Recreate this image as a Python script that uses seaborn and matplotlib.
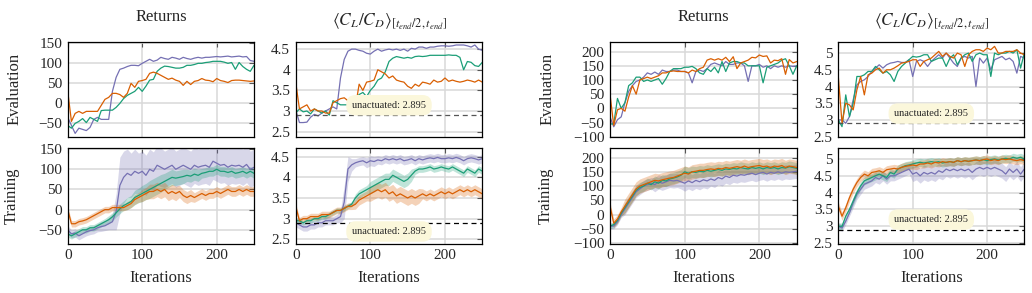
import numpy as np
import pandas as pd
import matplotlib
matplotlib.use('Agg')
import matplotlib.pyplot as plt
from matplotlib.ticker import FuncFormatter
import seaborn as sns

# iterations (evaluation every 5 iterations)
iters = np.arange(0, 251, 5)
runs = ['purple', 'green', 'orange']
colors = {'purple': '#7570b3', 'green': '#1b9e77', 'orange': '#d95f02'}
unactuated = 2.895

# ---------------- left group: evaluation ----------------
ev_ret_a = {
    'purple': [-35, -55, -75, -62, -65, -68, -60, -40, -35, -40, -40, -40, 30, 65, 85, 88, 92, 95, 95, 94,
               100, 105, 110, 105, 108, 115, 112, 110, 115, 113, 110, 115, 112, 110, 113, 115, 113, 115, 115, 116,
               117, 116, 117, 118, 116, 117, 118, 116, 117, 107, 105],
    'green': [-55, -62, -50, -45, -38, -48, -35, -40, -45, -18, -17, -17, -17, -10, 0, 12, 20, 25, 30, 40,
              30, 43, 58, 60, 80, 88, 93, 92, 90, 88, 88, 90, 95, 95, 97, 100, 100, 102, 103, 105,
              105, 105, 103, 100, 102, 85, 102, 92, 85, 80, 95],
    'orange': [31, -45, -25, -20, -25, -20, -20, -20, -20, -5, 10, 15, 25, 25, 22, 15, 25, 50, 40, 55,
               57, 60, 75, 78, 75, 70, 65, 60, 63, 58, 55, 45, 55, 47, 55, 57, 62, 58, 57, 54,
               62, 57, 55, 52, 57, 58, 58, 57, 56, 55, 56],
}
ev_cl_a = {
    'purple': [3.03, 2.72, 2.72, 2.73, 2.85, 2.92, 2.88, 2.95, 3.0, 3.05, 3.1, 3.05, 3.8, 4.25, 4.45, 4.5, 4.5, 4.47, 4.45, 4.4,
               4.38, 4.45, 4.5, 4.45, 4.48, 4.5, 4.48, 4.5, 4.47, 4.5, 4.45, 4.52, 4.5, 4.55, 4.55, 4.52, 4.55, 4.55, 4.57, 4.58,
               4.58, 4.57, 4.58, 4.6, 4.6, 4.6, 4.58, 4.55, 4.6, 4.5, 4.47],
    'green': [2.95, 3.05, 2.98, 3.0, 2.93, 3.05, 3.0, 2.95, 3.0, 2.9, 3.25, 3.2, 3.15, 3.15, 3.15, 3.2, 3.3, 3.4, 3.45, 3.35,
              3.5, 3.6, 3.75, 3.8, 3.95, 4.2, 4.28, 4.32, 4.3, 4.28, 4.3, 4.28, 4.32, 4.33, 4.32, 4.33, 4.35, 4.35, 4.35, 4.35,
              4.35, 4.36, 4.35, 4.35, 4.3, 4.0, 4.2, 4.18, 4.1, 4.08, 4.18],
    'orange': [3.7, 3.05, 3.1, 3.15, 3.0, 3.05, 3.0, 3.0, 2.95, 2.95, 3.2, 3.25, 3.3, 3.32, 3.25, 3.2, 3.1, 3.65, 3.5, 3.7,
               3.72, 3.75, 4.0, 3.95, 3.9, 3.8, 3.85, 3.75, 3.72, 3.7, 3.6, 3.55, 3.65, 3.6, 3.7, 3.68, 3.65, 3.75, 3.7, 3.72,
               3.8, 3.72, 3.75, 3.72, 3.7, 3.72, 3.75, 3.73, 3.7, 3.75, 3.7],
}

# ---------------- left group: training (mean and spread) ----------------
tr_ret_a = {
    'purple': [-50, -60, -58, -65, -60, -55, -52, -50, -45, -42, -40, -35, -30, -5, 60, 80, 90, 85, 95, 90,
               95, 85, 100, 95, 110, 105, 100, 105, 110, 100, 105, 110, 105, 100, 110, 105, 108, 110, 105, 120,
               115, 110, 112, 105, 110, 108, 110, 105, 112, 100, 105],
    'green': [-60, -65, -60, -55, -50, -50, -45, -45, -40, -35, -30, -25, -18, -8, 2, 10, 15, 20, 30, 35,
              40, 45, 50, 55, 60, 65, 70, 75, 80, 78, 80, 82, 85, 83, 88, 85, 90, 92, 95, 95,
              100, 95, 95, 92, 95, 90, 92, 95, 90, 95, 90],
    'orange': [0, -35, -35, -30, -28, -25, -20, -15, -10, -5, 0, 0, 5, 5, 5, 5, 10, 15, 25, 30,
               35, 40, 45, 45, 50, 45, 50, 40, 45, 40, 45, 35, 30, 35, 30, 35, 40, 35, 40, 40,
               45, 40, 45, 50, 45, 45, 50, 45, 50, 45, 45],
}
tr_ret_a_sd = {
    'purple': [10, 10, 10, 10, 10, 10, 10, 10, 10, 12, 12, 15, 20, 45, 70, 65, 60, 55, 55, 50,
               50, 50, 50, 48, 48, 48, 45, 45, 45, 45, 45, 45, 45, 45, 45, 45, 45, 45, 45, 45,
               45, 45, 45, 45, 45, 45, 45, 45, 45, 45, 45],
    'green': [8, 8, 8, 8, 8, 8, 8, 8, 8, 8, 8, 10, 10, 10, 12, 12, 15, 15, 18, 18,
              20, 20, 22, 22, 22, 22, 20, 20, 20, 18, 18, 18, 15, 15, 15, 15, 12, 12, 12, 12,
              12, 12, 12, 12, 12, 12, 12, 12, 12, 12, 12],
    'orange': [8, 8, 8, 8, 8, 8, 8, 8, 8, 8, 8, 8, 8, 8, 8, 8, 10, 10, 12, 12,
               15, 15, 18, 18, 18, 18, 18, 18, 18, 18, 15, 15, 15, 15, 12, 12, 12, 12, 12, 12,
               12, 12, 12, 12, 12, 12, 12, 12, 12, 12, 12],
}
tr_cl_a = {
    'purple': [2.9, 2.85, 2.8, 2.8, 2.85, 2.85, 2.9, 2.9, 2.95, 2.95, 2.95, 3.0, 3.05, 3.4, 4.2, 4.3, 4.35, 4.38, 4.4, 4.35,
               4.4, 4.38, 4.42, 4.4, 4.45, 4.42, 4.45, 4.42, 4.45, 4.4, 4.42, 4.45, 4.4, 4.45, 4.42, 4.45, 4.47, 4.45, 4.48, 4.45,
               4.45, 4.47, 4.45, 4.48, 4.45, 4.4, 4.45, 4.47, 4.45, 4.42, 4.45],
    'green': [2.95, 2.95, 2.9, 2.95, 2.95, 3.0, 3.0, 3.05, 3.05, 3.1, 3.15, 3.2, 3.2, 3.25, 3.3, 3.35, 3.5, 3.6, 3.65, 3.7,
              3.75, 3.8, 3.85, 3.9, 3.95, 3.95, 4.05, 4.0, 3.95, 3.9, 3.95, 4.05, 4.15, 4.2, 4.2, 4.22, 4.25, 4.2, 4.22, 4.25,
              4.22, 4.2, 4.25, 4.2, 4.15, 4.1, 4.2, 4.15, 4.1, 4.2, 4.15],
    'orange': [3.3, 2.95, 3.0, 3.0, 3.05, 3.05, 3.05, 3.1, 3.1, 3.1, 3.15, 3.2, 3.2, 3.25, 3.3, 3.3, 3.35, 3.45, 3.5, 3.55,
               3.6, 3.65, 3.7, 3.65, 3.7, 3.6, 3.65, 3.55, 3.6, 3.55, 3.5, 3.55, 3.5, 3.55, 3.6, 3.55, 3.6, 3.55, 3.6, 3.65,
               3.6, 3.65, 3.6, 3.65, 3.7, 3.65, 3.7, 3.65, 3.7, 3.65, 3.6],
}
tr_cl_a_sd = {
    'purple': [0.1, 0.1, 0.1, 0.1, 0.1, 0.1, 0.1, 0.1, 0.1, 0.1, 0.1, 0.1, 0.15, 0.4, 0.3, 0.15, 0.1, 0.1, 0.1, 0.12,
               0.12, 0.12, 0.1, 0.1, 0.1, 0.1, 0.1, 0.1, 0.1, 0.1, 0.1, 0.1, 0.1, 0.1, 0.1, 0.1, 0.1, 0.1, 0.1, 0.1,
               0.1, 0.1, 0.1, 0.1, 0.1, 0.1, 0.1, 0.1, 0.1, 0.1, 0.1],
    'green': [0.06, 0.06, 0.06, 0.06, 0.06, 0.06, 0.06, 0.06, 0.06, 0.06, 0.06, 0.06, 0.06, 0.06, 0.06, 0.06, 0.1, 0.1, 0.1, 0.1,
              0.15, 0.15, 0.15, 0.15, 0.15, 0.15, 0.15, 0.15, 0.15, 0.15, 0.15, 0.15, 0.08, 0.08, 0.08, 0.08, 0.08, 0.08, 0.08, 0.08,
              0.08, 0.08, 0.08, 0.08, 0.08, 0.08, 0.08, 0.08, 0.08, 0.08, 0.08],
    'orange': [0.08, 0.08, 0.08, 0.08, 0.08, 0.08, 0.08, 0.08, 0.08, 0.08, 0.08, 0.08, 0.08, 0.08, 0.08, 0.08, 0.12, 0.12, 0.12, 0.12,
               0.18, 0.18, 0.18, 0.18, 0.18, 0.18, 0.18, 0.18, 0.18, 0.18, 0.18, 0.18, 0.18, 0.18, 0.12, 0.12, 0.12, 0.12, 0.12, 0.12,
               0.12, 0.12, 0.12, 0.12, 0.12, 0.12, 0.12, 0.12, 0.12, 0.12, 0.12],
}

# ---------------- right group: evaluation ----------------
ev_ret_b = {
    'purple': [-30, -65, -40, -30, 20, 60, 80, 95, 100, 110, 125, 120, 128, 120, 135, 130, 130, 135, 135, 130,
               130, 125, 90, 130, 135, 130, 140, 155, 160, 155, 150, 165, 155, 155, 160, 160, 150, 95, 150, 150,
               155, 145, 150, 140, 150, 145, 150, 145, 150, 148, 150],
    'green': [-55, -55, 35, 0, 20, 80, 90, 110, 110, 95, 100, 95, 100, 105, 85, 105, 130, 140, 140, 140,
              145, 145, 148, 140, 125, 120, 140, 130, 145, 125, 165, 130, 160, 165, 165, 160, 160, 150, 150, 150,
              150, 90, 145, 150, 155, 160, 170, 175, 150, 120, 150],
    'orange': [50, -60, -5, 0, -10, 40, 80, 50, 100, 105, 110, 105, 110, 115, 125, 125, 130, 132, 130, 130,
               130, 125, 135, 130, 140, 145, 170, 175, 170, 175, 170, 180, 165, 182, 140, 160, 165, 170, 180, 178,
               188, 183, 185, 160, 170, 168, 175, 120, 172, 160, 165],
}
ev_cl_b = {
    'purple': [3.0, 3.0, 2.9, 3.1, 3.6, 4.05, 4.15, 4.2, 4.3, 4.45, 4.55, 4.65, 4.55, 4.65, 4.7, 4.72, 4.75, 4.72, 4.72, 4.8,
               4.3, 4.75, 4.8, 4.75, 4.6, 4.75, 4.85, 4.95, 4.85, 5.0, 4.85, 4.7, 4.6, 4.85, 4.9, 4.85, 4.9, 4.0, 4.85, 4.7,
               4.85, 4.5, 4.8, 4.85, 4.9, 4.8, 4.85, 4.75, 4.4, 4.9, 4.85],
    'green': [3.0, 2.8, 3.75, 3.1, 3.5, 4.3, 4.3, 4.35, 4.45, 4.45, 4.6, 4.5, 4.4, 4.45, 4.35, 4.15, 4.45, 4.6, 4.7, 4.8,
              4.9, 4.88, 4.9, 4.95, 4.95, 4.75, 4.8, 4.85, 4.85, 4.6, 4.85, 4.95, 4.65, 4.85, 4.95, 5.0, 4.75, 4.95, 5.0, 4.95,
              4.95, 4.3, 5.0, 4.95, 5.0, 5.0, 5.05, 5.0, 5.1, 4.55, 5.0],
    'orange': [4.3, 2.9, 3.5, 3.45, 3.3, 3.9, 4.3, 3.75, 4.35, 4.4, 4.5, 4.55, 4.4, 4.5, 4.5, 4.55, 4.62, 4.7, 4.72, 4.75,
               4.8, 4.8, 4.6, 4.75, 4.8, 4.85, 4.95, 5.05, 4.9, 5.0, 4.9, 4.85, 5.0, 4.95, 4.6, 4.95, 5.05, 5.1, 5.1, 5.05,
               5.15, 5.1, 5.2, 5.0, 5.0, 5.05, 5.05, 5.05, 5.1, 5.0, 4.95],
}

# ---------------- right group: training ----------------
tr_ret_b = {
    'purple': [-40, -40, -25, 0, 20, 40, 60, 80, 90, 100, 105, 110, 105, 115, 110, 115, 120, 118, 120, 115,
               110, 118, 112, 120, 115, 122, 118, 125, 120, 130, 125, 135, 130, 138, 135, 140, 138, 142, 145, 140,
               145, 148, 142, 148, 145, 150, 145, 150, 148, 150, 152],
    'green': [-40, -35, -20, 5, 25, 45, 65, 85, 95, 100, 110, 105, 115, 110, 120, 118, 125, 128, 132, 138,
              150, 145, 150, 148, 152, 150, 155, 152, 155, 158, 155, 160, 158, 162, 160, 165, 162, 160, 165, 162,
              165, 160, 165, 162, 165, 160, 165, 163, 168, 165, 162],
    'orange': [30, -30, -15, 10, 30, 50, 70, 90, 100, 105, 110, 115, 120, 118, 122, 125, 128, 130, 135, 140,
               145, 142, 150, 152, 155, 155, 158, 160, 158, 162, 160, 165, 162, 165, 168, 165, 170, 165, 168, 170,
               172, 168, 170, 165, 170, 168, 172, 165, 170, 168, 165],
}
tr_ret_b_sd = {
    'purple': [10, 10, 10, 10, 20, 20, 20, 20, 20, 20, 20, 20, 25, 25, 25, 25, 25, 25, 25, 25,
               28, 28, 28, 28, 28, 28, 28, 25, 25, 25, 25, 25, 25, 25, 25, 25, 25, 25, 25, 25,
               25, 25, 25, 25, 25, 25, 25, 25, 25, 25, 25],
    'green': [10, 10, 10, 10, 18, 18, 18, 18, 18, 18, 18, 18, 20, 20, 20, 20, 20, 20, 20, 20,
              20, 20, 20, 20, 20, 20, 20, 20, 20, 20, 20, 20, 20, 20, 20, 20, 20, 20, 20, 20,
              20, 20, 20, 20, 20, 20, 20, 20, 20, 20, 20],
    'orange': [15, 15, 15, 15, 25, 25, 25, 25, 25, 25, 25, 25, 25, 25, 25, 25, 25, 25, 25, 25,
               25, 25, 25, 25, 25, 25, 25, 25, 25, 25, 25, 25, 25, 25, 25, 25, 25, 25, 25, 25,
               25, 25, 25, 25, 25, 25, 25, 25, 25, 25, 25],
}
tr_cl_b = {
    'purple': [3.0, 2.95, 3.15, 3.4, 3.7, 3.95, 4.1, 4.25, 4.3, 4.35, 4.45, 4.4, 4.5, 4.4, 4.5, 4.5, 4.55, 4.6, 4.65, 4.7,
               4.55, 4.6, 4.5, 4.6, 4.55, 4.6, 4.55, 4.65, 4.6, 4.7, 4.65, 4.7, 4.65, 4.7, 4.65, 4.7, 4.6, 4.7, 4.75, 4.7,
               4.75, 4.7, 4.75, 4.7, 4.65, 4.55, 4.7, 4.6, 4.7, 4.55, 4.7],
    'green': [3.0, 3.0, 3.3, 3.5, 3.75, 4.0, 4.2, 4.35, 4.4, 4.45, 4.5, 4.55, 4.5, 4.45, 4.6, 4.55, 4.7, 4.75, 4.8, 4.82,
              4.85, 4.88, 4.9, 4.88, 4.9, 4.92, 4.9, 4.92, 4.88, 4.9, 4.92, 4.9, 4.95, 4.92, 4.95, 4.93, 4.95, 4.97, 4.95, 4.98,
              4.95, 4.98, 5.0, 4.97, 5.0, 5.02, 5.0, 5.05, 5.02, 5.05, 5.0],
    'orange': [3.6, 3.3, 3.55, 3.85, 4.1, 4.3, 4.45, 4.55, 4.5, 4.6, 4.62, 4.65, 4.6, 4.68, 4.7, 4.72, 4.7, 4.75, 4.78, 4.8,
               4.82, 4.8, 4.85, 4.85, 4.88, 4.85, 4.9, 4.88, 4.92, 4.9, 4.92, 4.9, 4.95, 4.92, 4.95, 4.93, 4.95, 4.97, 4.95, 4.98,
               5.0, 4.95, 4.98, 4.95, 5.0, 4.98, 5.0, 4.97, 4.95, 4.98, 4.95],
}
tr_cl_b_sd = {
    'purple': [0.1, 0.1, 0.1, 0.1, 0.15, 0.15, 0.15, 0.15, 0.15, 0.15, 0.15, 0.15, 0.15, 0.15, 0.15, 0.15, 0.15, 0.15, 0.15, 0.15,
               0.22, 0.22, 0.22, 0.22, 0.22, 0.22, 0.22, 0.22, 0.22, 0.22, 0.22, 0.22, 0.22, 0.22, 0.22, 0.22, 0.22, 0.22, 0.22, 0.22,
               0.22, 0.22, 0.22, 0.22, 0.22, 0.22, 0.22, 0.22, 0.22, 0.22, 0.22],
    'green': [0.1, 0.1, 0.1, 0.1, 0.12, 0.12, 0.12, 0.12, 0.12, 0.12, 0.12, 0.12, 0.12, 0.12, 0.12, 0.12, 0.12, 0.12, 0.12, 0.12,
              0.12, 0.12, 0.12, 0.12, 0.12, 0.12, 0.12, 0.12, 0.12, 0.12, 0.12, 0.12, 0.12, 0.12, 0.12, 0.12, 0.12, 0.12, 0.12, 0.12,
              0.12, 0.12, 0.12, 0.12, 0.12, 0.12, 0.12, 0.12, 0.12, 0.12, 0.12],
    'orange': [0.12, 0.12, 0.12, 0.12, 0.12, 0.12, 0.12, 0.12, 0.12, 0.12, 0.12, 0.12, 0.12, 0.12, 0.12, 0.12, 0.12, 0.12, 0.12, 0.12,
               0.12, 0.12, 0.12, 0.12, 0.12, 0.12, 0.12, 0.12, 0.12, 0.12, 0.12, 0.12, 0.12, 0.12, 0.12, 0.12, 0.12, 0.12, 0.12, 0.12,
               0.12, 0.12, 0.12, 0.12, 0.12, 0.12, 0.12, 0.12, 0.12, 0.12, 0.12],
}

# ---------------- style ----------------
sns.set_style('white')
plt.rcParams['font.family'] = ['Liberation Serif', 'DejaVu Serif']
plt.rcParams['mathtext.fontset'] = 'stix'
plt.rcParams['axes.unicode_minus'] = True

W, H = 1032, 293
fig = plt.figure(figsize=(W / 100, H / 100), dpi=100)


def add_ax(left, top, right, bottom):
    return fig.add_axes([left / W, 1 - bottom / H, (right - left) / W, (bottom - top) / H])


fmt = FuncFormatter(lambda v, _: ('%g' % v).replace('-', '\u2212'))


def panel(ax, series, ylim, yticks, spread=None, unact_xy=None, dash='k'):
    if spread is not None:
        for r in runs:
            m = np.array(series[r])
            s = np.array(spread[r])
            ax.fill_between(iters, m - s, m + s, color=colors[r], alpha=0.28, lw=0)
    df = pd.concat([pd.DataFrame({'iter': iters, 'value': series[r], 'run': r}) for r in runs])
    sns.lineplot(data=df, x='iter', y='value', hue='run', hue_order=runs, palette=colors,
                 estimator=None, legend=False, lw=0.9, ax=ax)
    if unact_xy is not None:
        ax.axhline(unactuated, color=dash, ls=(0, (4, 3)), lw=0.9)
        ax.text(unact_xy[0], unact_xy[1], 'unactuated: %.3f' % unactuated, fontsize=7.5,
                ha='center', va='center',
                bbox=dict(boxstyle='round,pad=0.55,rounding_size=0.9', fc='#fbf7db', ec='none'))
    ax.set_xlim(0, 250)
    ax.set_ylim(*ylim)
    ax.set_xticks([0, 100, 200])
    ax.set_yticks(yticks)
    ax.yaxis.set_major_formatter(fmt)
    ax.grid(True, color='#d9d9d9', lw=1.1)
    ax.set_axisbelow(True)
    ax.tick_params(direction='in', length=3.5, width=0.8, color='#555555', top=True, right=True,
                   labelsize=11, pad=4)
    for sp in ax.spines.values():
        sp.set_color('black')
        sp.set_linewidth(0.9)
    ax.set_xlabel('')
    ax.set_ylabel('')


cols = [(67.7, 254.0), (295.7, 482.3), (610.0, 796.7), (838.3, 1024.3)]
row_top = (41.7, 137.0)
row_bot = (147.5, 243.5)

ret_ticks_a = [-50, 0, 50, 100, 150]
cl_ticks_a = [2.5, 3, 3.5, 4, 4.5]
ret_ticks_b = [-100, -50, 0, 50, 100, 150, 200]
cl_ticks_b = [2.5, 3, 3.5, 4, 4.5, 5]

# top row (evaluation)
a1 = add_ax(cols[0][0], row_top[0], cols[0][1], row_top[1])
panel(a1, ev_ret_a, (-84, 154), ret_ticks_a)
a2 = add_ax(cols[1][0], row_top[0], cols[1][1], row_top[1])
panel(a2, ev_cl_a, (2.37, 4.68), cl_ticks_a, unact_xy=(125, 3.14), dash='#555555')
a3 = add_ax(cols[2][0], row_top[0], cols[2][1], row_top[1])
panel(a3, ev_ret_b, (-101, 235), ret_ticks_b)
a4 = add_ax(cols[3][0], row_top[0], cols[3][1], row_top[1])
panel(a4, ev_cl_b, (2.49, 5.34), cl_ticks_b, unact_xy=(125, 3.19), dash='#555555')

# bottom row (training)
b1 = add_ax(cols[0][0], row_bot[0], cols[0][1], row_bot[1])
panel(b1, tr_ret_a, (-84, 154), ret_ticks_a, spread=tr_ret_a_sd)
b2 = add_ax(cols[1][0], row_bot[0], cols[1][1], row_bot[1])
panel(b2, tr_cl_a, (2.40, 4.72), cl_ticks_a, spread=tr_cl_a_sd, unact_xy=(125, 2.69))
b3 = add_ax(cols[2][0], row_bot[0], cols[2][1], row_bot[1])
panel(b3, tr_ret_b, (-101, 235), ret_ticks_b, spread=tr_ret_b_sd)
b4 = add_ax(cols[3][0], row_bot[0], cols[3][1], row_bot[1])
panel(b4, tr_cl_b, (2.49, 5.34), cl_ticks_b, spread=tr_cl_b_sd, unact_xy=(125, 3.20))

for ax in (a1, a2, a3, a4):
    ax.tick_params(labelbottom=False)

title_cl = r'$\langle C_L/C_D\rangle_{[t_{end}/2,t_{end}]}$'
for ax in (a1, a3):
    ax.set_title('Returns', fontsize=12, pad=15)
for ax in (a2, a4):
    ax.set_title(title_cl, fontsize=12.5, pad=12)

for ax in (b1, b2, b3, b4):
    ax.set_xlabel('Iterations', fontsize=12)
    ax.xaxis.set_label_coords(0.5, -0.28)

a1.set_ylabel('Evaluation', fontsize=12)
a1.yaxis.set_label_coords(-0.24, 0.5)
b1.set_ylabel('Training', fontsize=12)
b1.yaxis.set_label_coords(-0.26, 0.5)
a3.set_ylabel('Evaluation', fontsize=12)
a3.yaxis.set_label_coords(-0.29, 0.5)
b3.set_ylabel('Training', fontsize=12)
b3.yaxis.set_label_coords(-0.30, 0.5)

fig.savefig('out.png', dpi=100)
